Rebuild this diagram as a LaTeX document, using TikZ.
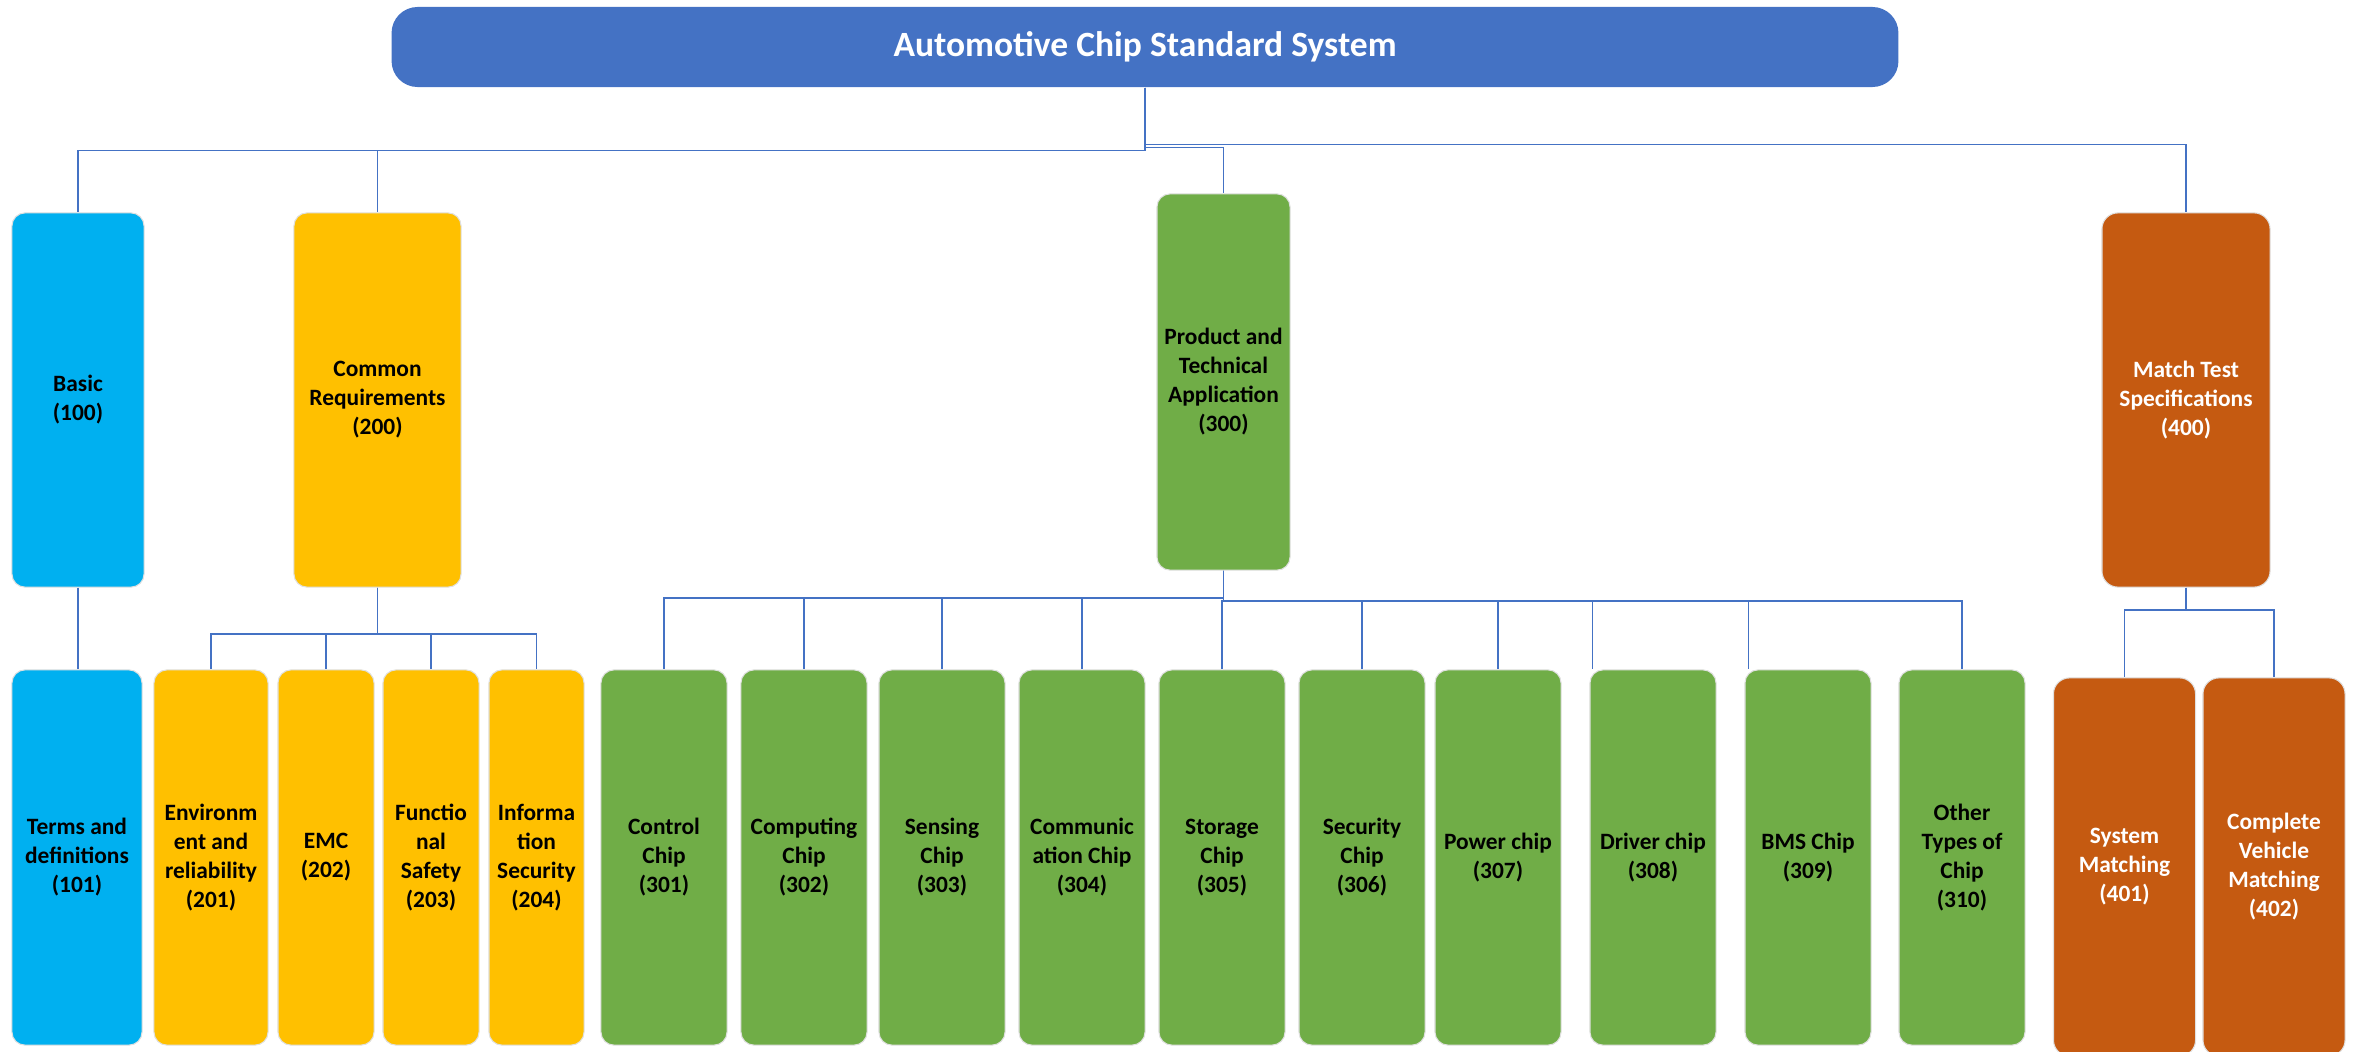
\documentclass[tikz,border=0pt]{standalone}
\usepackage{fontspec}
\setmainfont{Carlito}
\usetikzlibrary{calc}
\definecolor{titleblue}{HTML}{4472C4}
\definecolor{basiccyan}{HTML}{00B0F0}
\definecolor{commonyellow}{HTML}{FFC000}
\definecolor{prodgreen}{HTML}{70AD47}
\definecolor{matchorange}{HTML}{C55A11}
\begin{document}
\begin{tikzpicture}[x=0.01cm, y=-0.01cm,
	box/.style={rectangle, rounded corners=1.3mm, inner sep=0pt, align=center, draw=black!12, line width=0.3pt, font=\bfseries\fontsize{6.66}{8.25}\selectfont},
	basicbox/.style={box, fill=basiccyan},
	commonbox/.style={box, fill=commonyellow},
	prodbox/.style={box, fill=prodgreen},
	matchbox/.style={box, fill=matchorange, text=white, rounded corners=1.6mm},
	conn/.style={draw=titleblue, line width=0.5pt}]
	\useasboundingbox (0,0) rectangle (2354,1051);
	\clip (0,0) rectangle (2354,1051);
	
	\node[box, fill=titleblue, draw=none, text=white, rounded corners=2.6mm, minimum width=15.06cm, minimum height=0.8cm, font=\bfseries\fontsize{10.1}{12}\selectfont] (t) at (1145,47) {Automotive Chip Standard System};
	
	% first level
	\node[basicbox, minimum width=1.32cm, minimum height=3.74cm] (b100) at (78,400) {Basic\\(100)};
	\node[commonbox, minimum width=1.67cm, minimum height=3.74cm] (b200) at (377.5,400) {Common\\Requirements\\(200)};
	\node[prodbox, minimum width=1.33cm, minimum height=3.76cm] (b300) at (1223.5,382) {Product and\\Technical\\Application\\(300)};
	\node[matchbox, minimum width=1.68cm, minimum height=3.74cm] (b400) at (2186,400) {Match Test\\Specifications\\(400)};
	
	% second level
	\node[basicbox, minimum width=1.30cm, minimum height=3.75cm] (b101) at (77,857.5) {Terms and\\definitions\\(101)};
	\node[commonbox, minimum width=1.14cm, minimum height=3.75cm] (b201) at (211,857.5) {Environm\\ent and\\reliability\\(201)};
	\node[commonbox, minimum width=0.96cm, minimum height=3.75cm] (b202) at (326,857.5) {EMC\\(202)};
	\node[commonbox, minimum width=0.96cm, minimum height=3.75cm] (b203) at (431,857.5) {Functio\\nal\\Safety\\(203)};
	\node[commonbox, minimum width=0.95cm, minimum height=3.75cm] (b204) at (536.5,857.5) {Informa\\tion\\Security\\(204)};
	
	\node[prodbox, minimum width=1.26cm, minimum height=3.75cm] (b301) at (664,857.5) {Control\\Chip\\(301)};
	\node[prodbox, minimum width=1.26cm, minimum height=3.75cm] (b302) at (804,857.5) {Computing\\Chip\\(302)};
	\node[prodbox, minimum width=1.26cm, minimum height=3.75cm] (b303) at (942,857.5) {Sensing\\Chip\\(303)};
	\node[prodbox, minimum width=1.26cm, minimum height=3.75cm] (b304) at (1082,857.5) {Communic\\ation Chip\\(304)};
	\node[prodbox, minimum width=1.26cm, minimum height=3.75cm] (b305) at (1222,857.5) {Storage\\Chip\\(305)};
	\node[prodbox, minimum width=1.26cm, minimum height=3.75cm] (b306) at (1362,857.5) {Security\\Chip\\(306)};
	\node[prodbox, minimum width=1.26cm, minimum height=3.75cm] (b307) at (1498,857.5) {Power chip\\(307)};
	\node[prodbox, minimum width=1.26cm, minimum height=3.75cm] (b308) at (1653,857.5) {Driver chip\\(308)};
	\node[prodbox, minimum width=1.26cm, minimum height=3.75cm] (b309) at (1808,857.5) {BMS Chip\\(309)};
	\node[prodbox, minimum width=1.26cm, minimum height=3.75cm] (b310) at (1962,857.5) {Other\\Types of\\Chip\\(310)};
	
	\node[matchbox, minimum width=1.42cm, minimum height=3.78cm] (b401) at (2124.5,867) {System\\Matching\\(401)};
	\node[matchbox, minimum width=1.42cm, minimum height=3.78cm] (b402) at (2274,867) {Complete\\Vehicle\\Matching\\(402)};
	
	% connectors
	\draw[conn] (t.south) -- ++(0,63) -| (b100.north);
	\draw[conn] (t.south) -- ++(0,63) -| (b200.north);
	\draw[conn] (t.south) -- ++(0,60) -| (b300.north);
	\draw[conn] (t.south) -- ++(0,57) -| (b400.north);
	
	\draw[conn] (b100.south) -- (b100.south |- b101.north);
	\foreach \c in {201,...,204}
		\draw[conn] (b200.south) -- ++(0,46) -| (b\c.north);
	\foreach \c in {301,...,304}
		\draw[conn] (b300.south) -- ++(0,27) -| (b\c.north);
	\foreach \c in {305,306,307,310}
		\draw[conn] (b300.south) -- ++(0,30) -| (b\c.north);
	\draw[conn] (b300.south) -- ++(0,30) -| ($(b308.north west)+(3,0)$);
	\draw[conn] (b300.south) -- ++(0,30) -| ($(b309.north west)+(4,0)$);
	\foreach \c in {401,402}
		\draw[conn] (b400.south) -- ++(0,22) -| (b\c.north);
	
\end{tikzpicture}
\end{document}
